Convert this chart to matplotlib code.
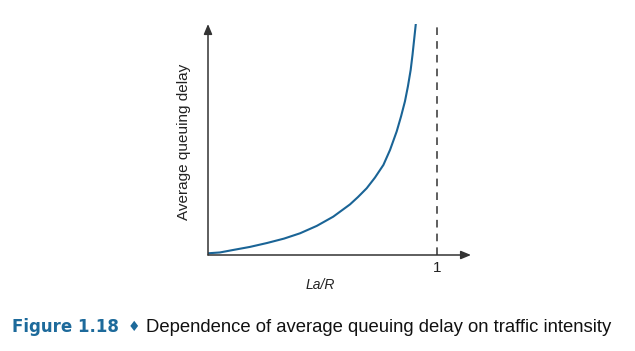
import numpy as np
import matplotlib.pyplot as plt

# points (x in units of La/R, y in fraction of axis height)
load = [0.0, 0.052, 0.109, 0.183, 0.258, 0.332, 0.402, 0.475, 0.547, 0.620, 0.655,
        0.693, 0.729, 0.766, 0.795, 0.824, 0.843, 0.860, 0.873, 0.885, 0.893, 0.900, 0.907]
delay = [0.0074, 0.011, 0.0216, 0.035, 0.052, 0.071, 0.094, 0.126, 0.166, 0.219, 0.251,
         0.289, 0.335, 0.390, 0.455, 0.535, 0.600, 0.665, 0.730, 0.801, 0.866, 0.931, 0.996]
tick_pos = [1.0]
tick_lab = ['1']

W, H = 635, 351
fig = plt.figure(figsize=(W / 100, H / 100), dpi=100)
x0, x1, ytop, ybot = 208, 471, 24, 255
ax = fig.add_axes([x0 / W, (H - ybot) / H, (x1 - x0) / W, (ybot - ytop) / H])
ax.set_xlim(0, (x1 - x0) / 229)
ax.set_ylim(0, 1)
for s in ax.spines.values():
    s.set_visible(False)
ax.set_xticks([])
ax.set_yticks([])
ax.patch.set_alpha(0)

axis_col = '#333333'
ax.annotate('', xy=(0, 1.0), xytext=(0, 0), xycoords='axes fraction',
            arrowprops=dict(arrowstyle='-|>,head_length=0.6,head_width=0.25',
                            color=axis_col, lw=1.1, shrinkA=0, shrinkB=0))
ax.annotate('', xy=(1.0, 0), xytext=(0, 0), xycoords='axes fraction',
            arrowprops=dict(arrowstyle='-|>,head_length=0.6,head_width=0.25',
                            color=axis_col, lw=1.1, shrinkA=0, shrinkB=0))

ax.plot(load, delay, color='#1a6496', lw=1.5, solid_joinstyle='round')
ax.plot([1, 1], [0, 1], color=axis_col, lw=1.1, ls=(0, (5, 4)))

for p, t in zip(tick_pos, tick_lab):
    ax.text(p, -0.055, t, ha='center', va='center', fontsize=11,
            family='Liberation Sans', color='#222222')

fig.text(320 / W, 1 - 285 / H, 'La/R', ha='center', va='center', fontsize=10,
         style='italic', family='Liberation Sans', color='#222222')
fig.text(184 / W, 1 - 142 / H, 'Average queuing delay', ha='center', va='center',
         rotation=90, fontsize=11, family='Liberation Sans', color='#222222')

blue = '#1d6a9b'
fig.text(12 / W, 1 - 327 / H, 'Figure 1.18', ha='left', va='center', fontsize=12,
         fontweight='bold', family='DejaVu Sans', color=blue)
fig.text(134 / W, 1 - 327 / H, '\u2666', ha='center', va='center', fontsize=10,
         family='DejaVu Sans', color=blue)
fig.text(146 / W, 1 - 327 / H, 'Dependence of average queuing delay on traffic intensity',
         ha='left', va='center', fontsize=13.3, family='Liberation Sans', color='#111111')

fig.savefig('out.png', dpi=100)
